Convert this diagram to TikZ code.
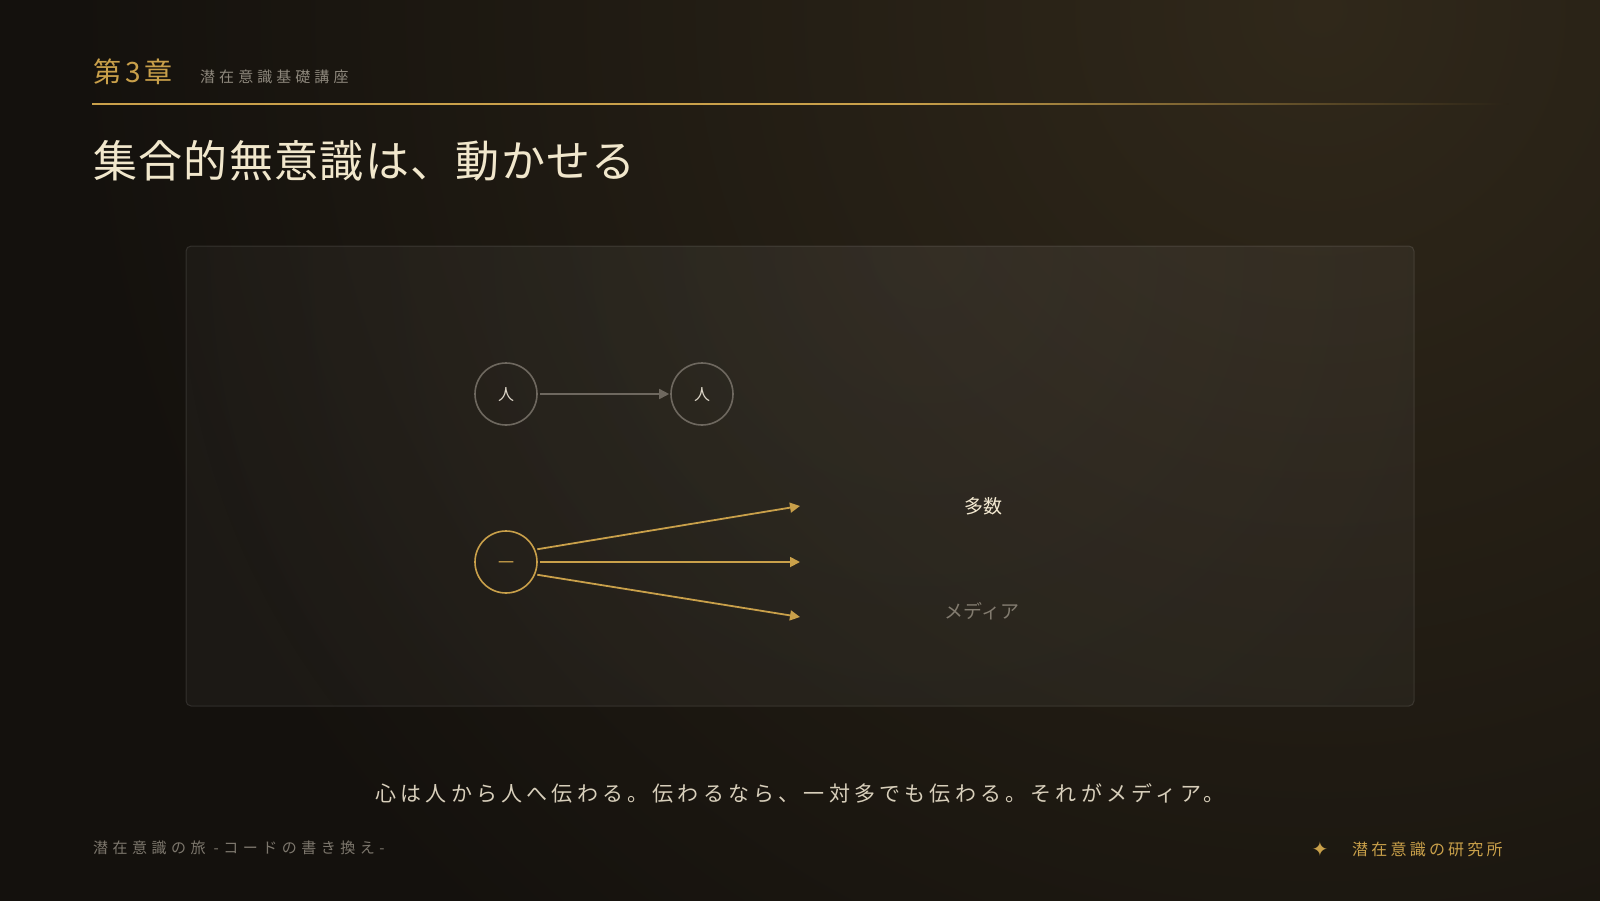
\documentclass[tikz,border=0pt]{standalone}
\usepackage{fontspec}
\newfontfamily\jp{Noto Sans CJK JP}
\newfontfamily\sym{DejaVu Sans}
\usetikzlibrary{arrows.meta}
\definecolor{bg}{HTML}{14110D}
\definecolor{glow}{HTML}{30281A}
\definecolor{gold}{HTML}{C9A04A}
\definecolor{cream}{HTML}{F1E7CC}
\definecolor{subgray}{HTML}{8D877C}
\definecolor{footgray}{HTML}{7D776D}
\definecolor{bodytext}{HTML}{D8CFBB}
\definecolor{circgray}{HTML}{6E685F}
\definecolor{circtext}{HTML}{DDD6C8}
\definecolor{linebg}{HTML}{2A2317}
\tikzset{
  txt/.style={inner sep=0pt, font=\jp},
  graycirc/.style={circle, draw=circgray, line width=1.6pt, minimum size=62pt, inner sep=0pt, text=circtext, font=\jp\fontsize{16}{16}\selectfont},
  goldcirc/.style={circle, draw=gold, line width=1.6pt, minimum size=62pt, inner sep=0pt, text=gold, font=\jp\fontsize{16}{16}\selectfont},
  grayarrow/.style={draw=circgray, line width=1.6pt, -{Triangle[length=10pt,width=10pt]}, shorten <=2pt, shorten >=1pt},
  goldarrow/.style={draw=gold, line width=1.8pt, -{Triangle[length=10pt,width=10pt]}, shorten <=2pt},
}
\begin{document}
\begin{tikzpicture}[x=1pt,y=-1pt]
\useasboundingbox (0,0) rectangle (1600,900);
\fill[bg] (-10,-10) rectangle (1610,910);
\begin{scope}
  \clip (-10,-10) rectangle (1610,910);
  \shade[inner color=glow, outer color=bg] (1320,10) circle (1250pt);
\end{scope}
% header
\node[txt, anchor=west, text=gold, font=\jp\fontsize{28}{28}\selectfont\addfontfeatures{LetterSpace=14}] (chap) at (93,72) {第3章};
\node[txt, anchor=west, text=subgray, font=\jp\fontsize{15}{15}\selectfont\addfontfeatures{LetterSpace=27}] (sub) at (200,77) {潜在意識基礎講座};
\fill[gold] (92,103.4) rectangle (900,104.6);
\shade[left color=gold, right color=linebg] (900,103.4) rectangle (1508,104.6);
\node[txt, anchor=west, text=cream, font=\jp\fontsize{44}{44}\selectfont\addfontfeatures{LetterSpace=3}] (title) at (93,161) {集合的無意識は、動かせる};
% panel
\begin{scope}
  \clip[rounded corners=5pt] (186,246) rectangle (1414,706);
  \fill[white, opacity=0.035] (186,246) rectangle (1414,706);
  \shade[inner color=white, outer color=bg, opacity=0.035] (930,250) circle (750pt);
\end{scope}
\draw[white, opacity=0.11, line width=1pt, rounded corners=5pt] (186,246) rectangle (1414,706);
% diagram
\node[graycirc] (p1) at (506,394) {\raisebox{-6pt}[0pt][0pt]{人}};
\node[graycirc] (p2) at (702,394) {\raisebox{-6pt}[0pt][0pt]{人}};
\draw[grayarrow] (p1) -- (p2);
\node[goldcirc] (one) at (506,562) {\raisebox{-6pt}[0pt][0pt]{一}};
\coordinate (t1) at (800,506);
\coordinate (t2) at (800,562);
\coordinate (t3) at (800,617);
\draw[goldarrow] (one.23) -- (t1);
\draw[goldarrow] (one.east) -- (t2);
\draw[goldarrow] (one.-23) -- (t3);
\node[txt, text=cream!90!white, font=\jp\fontsize{19}{19}\selectfont] (many) at (983,506) {多数};
\node[txt, text=subgray!110, font=\jp\fontsize{19}{19}\selectfont] (media) at (982,611) {メディア};
% bottom
\node[txt, text=bodytext, font=\jp\fontsize{21}{21}\selectfont\addfontfeatures{LetterSpace=20}] (body) at (800,793) {心は人から人へ伝わる。伝わるなら、一対多でも伝わる。それがメディア。};
\node[txt, anchor=west, text=footgray, font=\jp\fontsize{15}{15}\selectfont\addfontfeatures{LetterSpace=30}] (footl) at (93,848) {潜在意識の旅 -コードの書き換え-};
\node[txt, text=gold, font=\sym\fontsize{20}{20}\selectfont] (star) at (1320,849) {✦};
\node[txt, anchor=west, text=gold, font=\jp\fontsize{16}{16}\selectfont\addfontfeatures{LetterSpace=20}] (footr) at (1352,849) {潜在意識の研究所};
\end{tikzpicture}
\end{document}
